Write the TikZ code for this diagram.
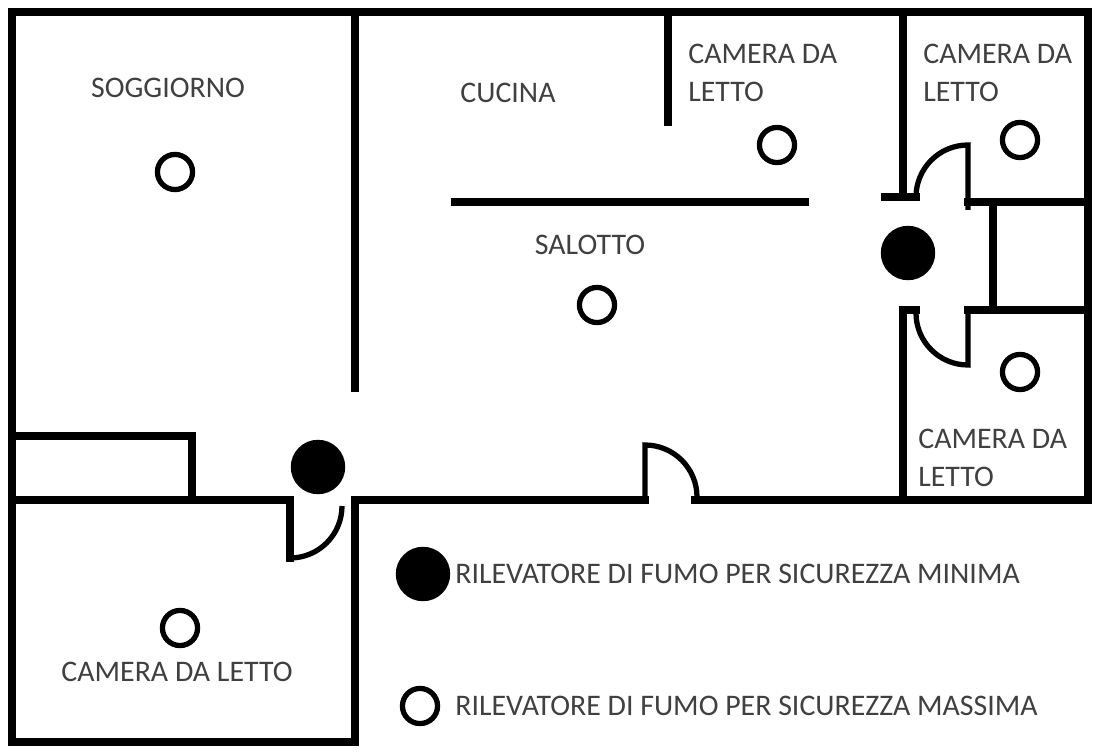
\documentclass[tikz,border=0pt]{standalone}
\usepackage{fontspec}
\setmainfont{Carlito}
\begin{document}
\begin{tikzpicture}[x=0.02cm,y=-0.02cm,
  wall/.style={line width=4pt,line cap=rect,line join=miter},
  door/.style={line width=3pt},
  full/.style={circle,fill=black,minimum size=31pt,inner sep=0pt},
  empty/.style={circle,draw=black,line width=3pt,minimum size=20pt,inner sep=0pt},
  lbl/.style={font=\fontsize{17}{21.5}\selectfont,text=black!75,align=left,inner sep=0pt}]
\useasboundingbox (0,0) rectangle (1096,753);
% outer walls
\draw[wall] (290,500) -- (12,500) -- (12,12) -- (1088,12) -- (1088,500) -- (695,500);
\draw[wall] (645,500) -- (355,500);
\draw[wall] (12,500) -- (12,742) -- (355,742) -- (355,505);
% interior walls
\draw[wall] (355,12) -- (355,388);
\draw[wall] (668,12) -- (668,122);
\draw[wall] (455,202) -- (805,202);
\draw[wall] (903,12) -- (903,197);
\draw[wall] (885,197) -- (916,197);
\draw[wall] (968,202) -- (1088,202);
\draw[wall] (993,202) -- (993,310);
\draw[wall] (968,310) -- (1088,310);
\draw[wall] (903,500) -- (903,310) -- (916,310);
\draw[wall] (12,436) -- (192,436) -- (192,500);
\draw[wall] (290,500) -- (290,558);
% doors
\draw[door] (968,210) -- (968,145) arc[start angle=270,end angle=180,radius=52];
\draw[door] (968,310) -- (968,365) arc[start angle=90,end angle=180,radius=52];
\draw[door] (290,558) arc[start angle=90,end angle=0,radius=52];
\draw[door] (645,500) -- (645,445) arc[start angle=270,end angle=360,radius=52];
% detectors
\node[full] (f1) at (318,467) {};
\node[full] (f2) at (908,253) {};
\node[full] (f3) at (423,574) {};
\node[empty] (e1) at (175,172) {};
\node[empty] (e2) at (597,305) {};
\node[empty] (e3) at (777,145) {};
\node[empty] (e4) at (1020,140) {};
\node[empty] (e5) at (1020,372) {};
\node[empty] (e6) at (180,628) {};
\node[empty] (e7) at (420,706) {};
% labels
\node[lbl] (t1) at (168,88) {SOGGIORNO};
\node[lbl] (t2) at (508,93) {CUCINA};
\node[lbl,anchor=north west] (t3) at (688,44) {CAMERA DA\\LETTO};
\node[lbl,anchor=north west] (t4) at (923,44) {CAMERA DA\\LETTO};
\node[lbl,anchor=north west] (t5) at (918,429) {CAMERA DA\\LETTO};
\node[lbl] (t6) at (590,245) {SALOTTO};
\node[lbl] (t7) at (177,672) {CAMERA DA LETTO};
\node[lbl,anchor=west] (t8) at (455,574) {RILEVATORE DI FUMO PER SICUREZZA MINIMA};
\node[lbl,anchor=west] (t9) at (455,706) {RILEVATORE DI FUMO PER SICUREZZA MASSIMA};
\end{tikzpicture}
\end{document}
